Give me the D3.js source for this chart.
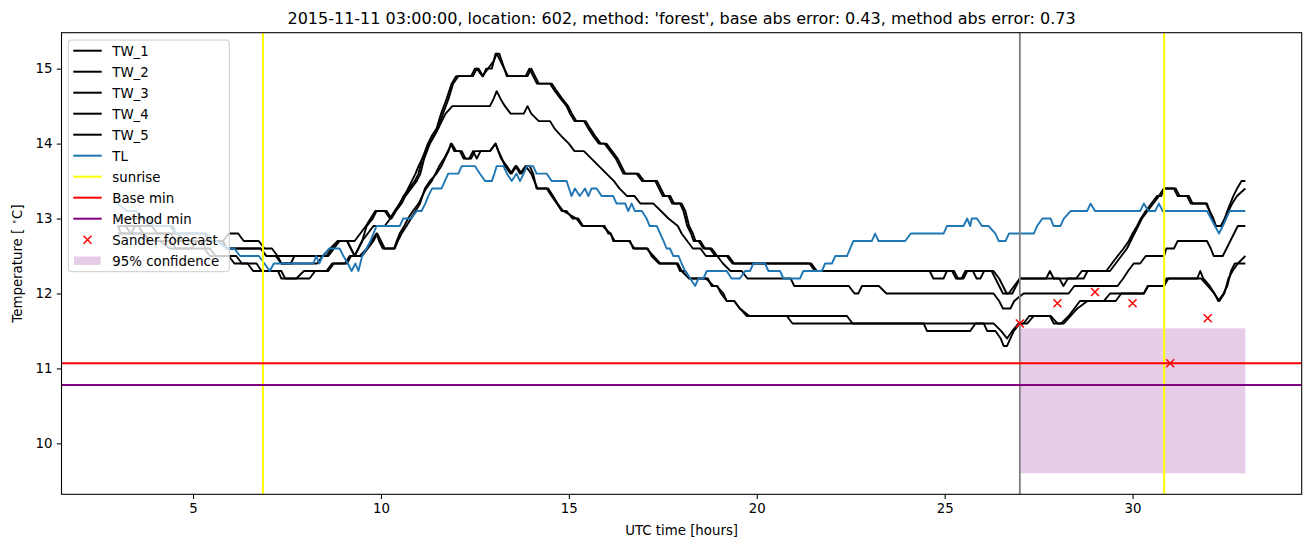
<!DOCTYPE html>
<html>
<head>
<meta charset="utf-8">
<script src="https://d3js.org/d3.v7.min.js"></script>
<style>
    body { margin: 0; background: white; }
    svg { display: block; font-family: "DejaVu Sans", sans-serif; }
    .tick text { font-size: 13.33px; fill: black; }
    .tick line { stroke: black; stroke-width: 1.07px; }
</style>
</head>
<body>
<svg width="1311" height="547"></svg>
<script>
// hours after 2015-11-11 00:00 UTC, temperature in degC
var tw1 = [[3.0,12.9],[3.9,12.9],[4.05,12.8],[4.6,12.8],[4.75,12.7],[5.8,12.7],[5.95,12.8],[6.2,12.8],[6.35,12.7],[6.75,12.7],[6.9,12.6],[7.1,12.6],[7.25,12.5],[8.6,12.5],[8.75,12.6],[8.9,12.7],[9.3,12.7],[9.45,12.8],[9.6,12.9],[9.85,13.1],[10.1,13.1],[10.24,13.0],[10.37,13.1],[10.5,13.2],[10.6,13.3],[10.75,13.4],[10.9,13.5],[11.0,13.6],[11.1,13.8],[11.25,14.0],[11.35,14.1],[11.48,14.2],[11.6,14.4],[11.75,14.6],[11.88,14.8],[12.0,14.9],[12.4,14.9],[12.5,15.0],[12.6,15.0],[12.72,14.9],[12.8,15.0],[12.95,15.0],[13.05,15.2],[13.15,15.2],[13.35,14.9],[13.85,14.9],[13.95,15.0],[14.05,14.9],[14.15,14.8],[14.5,14.8],[14.63,14.7],[14.78,14.6],[14.94,14.5],[15.03,14.4],[15.15,14.3],[15.4,14.3],[15.52,14.2],[15.65,14.1],[15.8,14.0],[15.95,14.0],[16.1,13.9],[16.25,13.8],[16.35,13.7],[16.45,13.6],[16.8,13.6],[16.95,13.5],[17.3,13.5],[17.4,13.4],[17.5,13.3],[17.65,13.3],[17.75,13.2],[17.96,13.2],[18.05,13.1],[18.1,13.0],[18.15,12.9],[18.25,12.8],[18.32,12.7],[18.45,12.7],[18.58,12.6],[18.75,12.6],[18.9,12.5],[19.2,12.5],[19.35,12.4],[21.4,12.4],[21.55,12.3],[25.2,12.3],[25.3,12.2],[25.5,12.2],[25.6,12.3],[25.75,12.3],[25.85,12.2],[25.95,12.2],[26.05,12.3],[26.3,12.3],[26.45,12.2],[26.55,12.1],[26.65,12.0],[26.8,12.0],[26.9,12.1],[27.0,12.2],[27.7,12.2],[27.8,12.3],[27.9,12.2],[28.5,12.2],[28.65,12.3],[29.4,12.3],[29.55,12.4],[29.7,12.5],[29.85,12.6],[29.95,12.7],[30.05,12.8],[30.15,12.9],[30.25,13.0],[30.4,13.1],[30.55,13.2],[30.7,13.3],[30.83,13.4],[31.1,13.4],[31.2,13.3],[31.45,13.3],[31.55,13.2],[31.98,13.2],[32.05,13.1],[32.12,13.0],[32.2,12.9],[32.35,12.9],[32.45,13.0],[32.52,13.1],[32.6,13.2],[32.68,13.3],[32.78,13.4],[32.9,13.5],[33.0,13.5]];
var tw2 = [[3.0,13.0],[3.7,13.0],[3.85,12.9],[4.4,12.9],[4.55,12.8],[5.3,12.8],[5.45,12.7],[5.8,12.7],[5.9,12.6],[6.8,12.6],[6.95,12.5],[7.25,12.5],[7.35,12.4],[7.6,12.4],[7.7,12.5],[8.55,12.5],[8.7,12.6],[8.85,12.7],[9.1,12.7],[9.2,12.6],[9.3,12.5],[9.4,12.6],[9.5,12.7],[9.62,12.9],[9.78,13.0],[9.88,13.1],[10.15,13.1],[10.28,13.0],[10.4,13.1],[10.55,13.2],[10.65,13.3],[10.8,13.4],[10.95,13.5],[11.05,13.6],[11.15,13.8],[11.3,14.0],[11.4,14.1],[11.52,14.2],[11.65,14.4],[11.8,14.6],[11.92,14.8],[12.06,14.9],[12.45,14.9],[12.55,15.0],[12.7,14.9],[12.85,15.0],[13.0,15.1],[13.08,15.2],[13.18,15.1],[13.38,14.9],[13.9,14.9],[14.0,15.0],[14.1,14.9],[14.2,14.8],[14.55,14.8],[14.68,14.7],[14.82,14.6],[14.98,14.5],[15.08,14.4],[15.2,14.3],[15.45,14.3],[15.57,14.2],[15.7,14.1],[15.85,14.0],[16.0,14.0],[16.15,13.9],[16.3,13.8],[16.4,13.7],[16.5,13.6],[16.85,13.6],[17.0,13.5],[17.35,13.5],[17.45,13.4],[17.55,13.3],[17.7,13.3],[17.8,13.2],[18.0,13.2],[18.1,13.1],[18.15,13.0],[18.2,12.9],[18.3,12.8],[18.37,12.7],[18.5,12.7],[18.62,12.6],[18.8,12.6],[18.95,12.5],[19.25,12.5],[19.4,12.4],[21.45,12.4],[21.6,12.3],[24.6,12.3],[24.7,12.2],[24.97,12.2],[25.06,12.3],[25.25,12.3],[25.35,12.2],[25.45,12.2],[25.55,12.3],[26.25,12.3],[26.35,12.2],[26.45,12.1],[26.55,12.0],[26.7,12.0],[26.85,12.1],[27.0,12.2],[28.05,12.2],[28.16,12.1],[28.28,12.2],[28.7,12.2],[28.8,12.3],[29.3,12.3],[29.45,12.4],[29.6,12.5],[29.76,12.6],[29.9,12.7],[30.0,12.8],[30.12,12.9],[30.22,13.0],[30.35,13.1],[30.5,13.2],[30.65,13.3],[30.76,13.3],[30.85,13.4],[31.15,13.4],[31.25,13.3],[31.5,13.3],[31.6,13.2],[31.95,13.2],[32.05,13.1],[32.15,13.0],[32.22,12.9],[32.38,12.9],[32.48,13.0],[32.55,13.1],[32.65,13.2],[32.78,13.3],[33.0,13.4]];
var tw3 = [[3.0,12.8],[4.4,12.8],[4.55,12.7],[5.75,12.7],[5.9,12.6],[6.8,12.6],[6.95,12.5],[7.2,12.5],[7.35,12.4],[8.3,12.4],[8.45,12.5],[8.65,12.6],[8.85,12.7],[9.1,12.7],[9.2,12.6],[9.3,12.5],[9.4,12.6],[9.5,12.7],[9.65,12.8],[9.8,12.9],[10.1,12.9],[10.25,13.0],[10.37,13.1],[10.5,13.2],[10.62,13.3],[10.72,13.4],[10.82,13.5],[10.92,13.6],[11.0,13.7],[11.1,13.8],[11.2,13.9],[11.3,14.0],[11.42,14.1],[11.52,14.2],[11.62,14.3],[11.72,14.4],[11.9,14.5],[12.9,14.5],[13.0,14.6],[13.08,14.7],[13.18,14.6],[13.3,14.5],[13.45,14.4],[13.8,14.4],[13.9,14.5],[14.0,14.4],[14.2,14.3],[14.5,14.3],[14.62,14.2],[14.8,14.1],[15.0,14.0],[15.15,13.9],[15.4,13.9],[15.6,13.8],[15.8,13.7],[16.0,13.6],[16.2,13.5],[16.35,13.4],[16.55,13.3],[16.75,13.3],[16.9,13.2],[17.25,13.2],[17.45,13.1],[17.65,13.0],[17.9,12.9],[18.0,12.8],[18.15,12.7],[18.3,12.6],[18.5,12.6],[18.65,12.5],[18.95,12.5],[19.1,12.4],[19.3,12.3],[19.6,12.3],[19.75,12.2],[20.9,12.2],[21.0,12.1],[22.45,12.1],[22.6,12.0],[22.7,12.0],[22.8,12.1],[23.25,12.1],[23.45,12.0],[26.3,12.0],[26.45,11.9],[26.55,11.8],[26.75,11.8],[26.85,11.9],[27.1,12.0],[28.3,12.0],[28.45,12.1],[29.6,12.1],[29.75,12.2],[29.88,12.3],[30.03,12.4],[30.2,12.4],[30.35,12.5],[30.84,12.5],[30.9,12.6],[31.1,12.6],[31.2,12.7],[31.98,12.7],[32.08,12.6],[32.16,12.5],[32.4,12.5],[32.5,12.6],[32.6,12.7],[32.7,12.8],[32.8,12.9],[33.0,12.9]];
var tw4 = [[3.0,12.9],[3.09,12.8],[3.36,12.8],[3.45,12.9],[3.55,12.9],[3.67,12.8],[3.8,12.7],[4.11,12.7],[4.38,12.6],[4.96,12.6],[5.1,12.7],[5.2,12.7],[5.35,12.6],[5.45,12.6],[5.6,12.5],[6.15,12.5],[6.3,12.4],[6.69,12.4],[6.82,12.3],[7.26,12.3],[7.35,12.2],[7.75,12.2],[7.95,12.3],[8.55,12.3],[8.7,12.4],[9.04,12.4],[9.17,12.5],[9.44,12.5],[9.62,12.6],[9.75,12.7],[9.88,12.8],[9.95,12.7],[10.05,12.6],[10.37,12.6],[10.45,12.7],[10.55,12.8],[10.68,12.9],[10.8,13.0],[10.92,13.1],[11.04,13.2],[11.17,13.4],[11.3,13.5],[11.48,13.6],[11.61,13.7],[11.7,13.8],[11.8,13.9],[11.86,14.0],[11.95,13.9],[12.1,13.9],[12.2,13.8],[12.35,13.8],[12.45,13.9],[12.55,13.8],[12.65,13.9],[12.9,13.9],[13.05,14.0],[13.12,13.9],[13.2,13.8],[13.35,13.7],[13.48,13.6],[13.61,13.7],[13.74,13.6],[13.88,13.7],[13.96,13.7],[14.05,13.6],[14.14,13.4],[14.41,13.4],[14.54,13.3],[14.68,13.2],[14.81,13.1],[14.94,13.1],[15.1,13.0],[15.25,13.0],[15.38,12.9],[15.95,12.9],[16.05,12.8],[16.12,12.8],[16.18,12.7],[16.63,12.7],[16.71,12.6],[17.07,12.6],[17.25,12.5],[17.43,12.4],[17.87,12.4],[17.96,12.3],[18.1,12.3],[18.22,12.2],[18.7,12.2],[18.8,12.1],[18.93,12.1],[19.11,12.0],[19.2,11.9],[19.4,11.9],[19.55,11.8],[19.73,11.7],[20.8,11.7],[20.95,11.6],[24.44,11.6],[24.53,11.5],[25.68,11.5],[25.82,11.6],[26.04,11.6],[26.13,11.5],[26.35,11.5],[26.49,11.4],[26.57,11.3],[26.66,11.3],[26.75,11.4],[26.84,11.5],[27.0,11.6],[27.2,11.6],[27.37,11.7],[27.82,11.7],[28.0,11.6],[28.17,11.6],[28.35,11.7],[28.53,11.8],[28.8,11.9],[29.24,11.9],[29.4,12.0],[30.3,12.0],[30.4,12.1],[30.84,12.1],[30.95,12.2],[31.82,12.2],[32.0,12.1],[32.17,12.0],[32.31,11.9],[32.44,12.0],[32.55,12.2],[32.66,12.3],[32.8,12.4],[33.0,12.5]];
var tw5 = [[3.0,12.9],[3.2,12.9],[3.35,12.8],[3.7,12.8],[3.85,12.7],[4.4,12.7],[4.55,12.6],[5.3,12.6],[5.45,12.5],[5.95,12.5],[6.1,12.4],[6.45,12.4],[6.6,12.3],[7.35,12.3],[7.45,12.2],[8.1,12.2],[8.25,12.3],[8.6,12.3],[8.75,12.4],[9.1,12.4],[9.2,12.5],[9.5,12.5],[9.65,12.6],[9.8,12.7],[9.9,12.8],[10.0,12.7],[10.1,12.6],[10.35,12.6],[10.42,12.7],[10.5,12.8],[10.62,12.9],[10.72,13.0],[10.85,13.1],[11.0,13.2],[11.1,13.3],[11.2,13.4],[11.35,13.5],[11.45,13.6],[11.55,13.7],[11.68,13.8],[11.78,13.9],[11.88,14.0],[12.0,13.9],[12.15,13.9],[12.25,13.8],[12.4,13.8],[12.5,13.9],[12.9,13.9],[13.05,14.0],[13.13,13.9],[13.22,13.8],[13.3,13.7],[13.45,13.6],[13.58,13.7],[13.7,13.6],[13.85,13.7],[14.0,13.6],[14.08,13.5],[14.17,13.4],[14.45,13.4],[14.58,13.3],[14.7,13.2],[14.85,13.1],[15.2,13.0],[15.35,12.9],[15.9,12.9],[16.1,12.8],[16.22,12.7],[16.6,12.7],[16.75,12.6],[17.1,12.6],[17.2,12.5],[17.4,12.4],[17.9,12.4],[18.0,12.3],[18.2,12.2],[18.65,12.2],[18.85,12.1],[18.95,12.1],[19.05,12.0],[19.2,11.9],[19.4,11.9],[19.55,11.8],[19.8,11.7],[22.4,11.7],[22.55,11.6],[26.3,11.6],[26.5,11.5],[26.66,11.4],[26.8,11.5],[26.97,11.6],[27.1,11.6],[27.25,11.7],[27.8,11.7],[27.9,11.6],[28.1,11.6],[28.3,11.7],[28.45,11.8],[28.6,11.9],[29.55,11.9],[29.7,12.0],[30.3,12.0],[30.42,12.1],[30.84,12.1],[30.9,12.2],[31.72,12.2],[31.8,12.3],[31.88,12.2],[32.05,12.1],[32.18,12.0],[32.28,11.9],[32.42,12.0],[32.52,12.1],[32.62,12.3],[32.72,12.4],[33.0,12.4]];
var tl = [[3.0,13.2],[3.23,13.1],[3.49,13.1],[3.63,13.0],[3.85,13.0],[3.94,12.9],[4.47,12.9],[4.56,12.8],[5.35,12.8],[5.5,12.7],[5.62,12.7],[5.9,12.6],[6.1,12.6],[6.25,12.5],[6.75,12.5],[6.9,12.4],[7.04,12.3],[7.15,12.4],[8.2,12.4],[8.28,12.5],[8.36,12.4],[8.45,12.5],[8.62,12.6],[8.9,12.6],[9.0,12.5],[9.12,12.4],[9.22,12.3],[9.32,12.4],[9.4,12.3],[9.5,12.5],[9.62,12.6],[9.72,12.7],[9.88,12.9],[10.5,12.9],[10.59,13.0],[10.81,13.0],[10.95,13.1],[11.08,13.1],[11.18,13.2],[11.26,13.3],[11.36,13.4],[11.61,13.4],[11.7,13.5],[11.79,13.6],[12.06,13.6],[12.15,13.7],[12.5,13.7],[12.63,13.6],[12.77,13.5],[12.95,13.5],[13.02,13.6],[13.08,13.7],[13.26,13.7],[13.35,13.6],[13.48,13.5],[13.61,13.6],[13.7,13.5],[13.8,13.6],[13.88,13.7],[14.05,13.7],[14.14,13.6],[14.41,13.6],[14.54,13.5],[14.94,13.5],[15.07,13.3],[15.16,13.4],[15.29,13.3],[15.43,13.4],[15.52,13.3],[15.6,13.4],[15.74,13.4],[15.87,13.3],[16.18,13.3],[16.27,13.2],[16.5,13.2],[16.58,13.1],[16.67,13.2],[16.76,13.1],[16.94,13.1],[17.07,13.0],[17.15,12.9],[17.34,12.9],[17.43,12.8],[17.52,12.7],[17.6,12.6],[17.69,12.6],[17.78,12.5],[17.92,12.5],[18.0,12.4],[18.09,12.3],[18.23,12.2],[18.36,12.1],[18.45,12.2],[18.58,12.2],[18.67,12.3],[19.2,12.3],[19.33,12.2],[19.55,12.2],[19.69,12.3],[19.82,12.3],[19.91,12.4],[20.22,12.4],[20.31,12.3],[20.62,12.3],[20.71,12.2],[21.15,12.2],[21.24,12.3],[21.73,12.3],[21.82,12.4],[22.0,12.4],[22.09,12.5],[22.4,12.5],[22.57,12.7],[23.06,12.7],[23.15,12.8],[23.24,12.7],[23.95,12.7],[24.1,12.8],[24.97,12.8],[25.06,12.9],[25.5,12.9],[25.6,13.0],[25.68,12.9],[25.72,13.0],[25.86,13.0],[25.99,12.9],[26.17,12.9],[26.35,12.8],[26.44,12.7],[26.62,12.7],[26.71,12.8],[27.37,12.8],[27.46,12.9],[27.6,13.0],[27.82,13.0],[27.9,12.9],[28.08,12.9],[28.17,13.0],[28.35,13.1],[28.79,13.1],[28.88,13.2],[29.0,13.1],[30.2,13.1],[30.3,13.2],[30.42,13.1],[30.6,13.1],[30.7,13.2],[30.8,13.1],[31.98,13.1],[32.3,12.8],[32.4,12.9],[32.58,13.1],[33.0,13.1]];

var sunriseHours = [6.86, 30.84];
var forecastHour = 27.0;
var baseMin = 11.07;
var methodMin = 10.78;
var sanderHours = [27, 28, 29, 30, 31, 32];
var sanderTemps = [11.60, 11.87, 12.02, 11.87, 11.07, 11.67];
var confHours = [27, 33];
var confTemps = [9.6, 11.535];
var xTicks = [5, 10, 15, 20, 25, 30];
var yTicks = [10, 11, 12, 13, 14, 15];

var svg = d3.select("svg");
var axL = 61.5, axR = 1301.7, axT = 32.7, axB = 494.3;

var x = d3.scaleLinear().domain([1.5, 34.5]).range([axL, axR]);
var y = d3.scaleLinear().domain([9.32, 15.48]).range([axB, axT]);

// confidence band
svg.append("rect")
    .attr("x", x(confHours[0]))
    .attr("y", y(confTemps[1]))
    .attr("width", x(confHours[1]) - x(confHours[0]))
    .attr("height", y(confTemps[0]) - y(confTemps[1]))
    .attr("fill", "purple").attr("fill-opacity", 0.2);

var line = d3.line().x(function(d) { return x(d[0]); }).y(function(d) { return y(d[1]); });

[tw1, tw2, tw3, tw4, tw5].forEach(function(s) {
    svg.append("path").datum(s)
        .attr("fill", "none").attr("stroke", "black").attr("stroke-width", 1.9)
        .attr("stroke-linejoin", "round").attr("d", line);
});
svg.append("path").datum(tl)
    .attr("fill", "none").attr("stroke", "#1f77b4").attr("stroke-width", 1.9)
    .attr("stroke-linejoin", "round").attr("d", line);

// vertical markers
sunriseHours.forEach(function(h) {
    svg.append("line").attr("x1", x(h)).attr("x2", x(h)).attr("y1", axT).attr("y2", axB)
        .attr("stroke", "yellow").attr("stroke-width", 2);
});
svg.append("line").attr("x1", x(forecastHour)).attr("x2", x(forecastHour)).attr("y1", axT).attr("y2", axB)
    .attr("stroke", "grey").attr("stroke-width", 1.8);

// min lines
svg.append("line").attr("x1", axL).attr("x2", axR).attr("y1", y(baseMin)).attr("y2", y(baseMin))
    .attr("stroke", "red").attr("stroke-width", 2);
svg.append("line").attr("x1", axL).attr("x2", axR).attr("y1", y(methodMin)).attr("y2", y(methodMin))
    .attr("stroke", "purple").attr("stroke-width", 2);

// forecast crosses
function cross(g, cx, cy) {
    var r = 4;
    g.append("path")
        .attr("d", "M" + (cx - r) + "," + (cy - r) + "L" + (cx + r) + "," + (cy + r) +
                   "M" + (cx - r) + "," + (cy + r) + "L" + (cx + r) + "," + (cy - r))
        .attr("stroke", "red").attr("stroke-width", 1.5).attr("fill", "none");
}
sanderHours.forEach(function(h, i) { cross(svg, x(h), y(sanderTemps[i])); });

// axes
var gx = svg.append("g").attr("transform", "translate(0," + axB + ")")
    .call(d3.axisBottom(x).tickValues(xTicks).tickSize(4.7).tickPadding(4.3).tickFormat(d3.format("d")));
var gy = svg.append("g").attr("transform", "translate(" + axL + ",0)")
    .call(d3.axisLeft(y).tickValues(yTicks).tickSize(4.7).tickPadding(4.3).tickFormat(d3.format("d")));
gx.select(".domain").remove();
gy.select(".domain").remove();
svg.selectAll(".tick text").attr("font-family", "DejaVu Sans");

svg.append("rect").attr("x", axL).attr("y", axT).attr("width", axR - axL).attr("height", axB - axT)
    .attr("fill", "none").attr("stroke", "black").attr("stroke-width", 1.07);

// labels
svg.append("text").attr("x", (axL + axR) / 2).attr("y", 23.5).attr("text-anchor", "middle")
    .attr("font-size", "16px")
    .text("2015-11-11 03:00:00, location: 602, method: 'forest', base abs error: 0.43, method abs error: 0.73");
svg.append("text").attr("x", (axL + axR) / 2).attr("y", 535).attr("text-anchor", "middle")
    .attr("font-size", "13.33px").text("UTC time [hours]");
var yl = svg.append("text").attr("transform", "translate(22," + ((axT + axB) / 2) + ") rotate(-90)")
    .attr("text-anchor", "middle").attr("font-size", "13.33px");
yl.append("tspan").text("Temperature [ ");
yl.append("tspan").attr("font-size", "9px").attr("dy", "-5").text("\u2218");
yl.append("tspan").attr("dy", "5").text("C]");

// legend
var legendItems = [
    {name: "TW_1", kind: "line", color: "black"},
    {name: "TW_2", kind: "line", color: "black"},
    {name: "TW_3", kind: "line", color: "black"},
    {name: "TW_4", kind: "line", color: "black"},
    {name: "TW_5", kind: "line", color: "black"},
    {name: "TL", kind: "line", color: "#1f77b4"},
    {name: "sunrise", kind: "line", color: "yellow"},
    {name: "Base min", kind: "line", color: "red"},
    {name: "Method min", kind: "line", color: "purple"},
    {name: "Sander forecast", kind: "cross", color: "red"},
    {name: "95% confidence", kind: "patch", color: "purple"}
];
var lg = svg.append("g");
lg.append("rect").attr("x", 68.3).attr("y", 40).attr("width", 161).attr("height", 231.7)
    .attr("rx", 3).attr("fill", "white").attr("fill-opacity", 0.8)
    .attr("stroke", "#cccccc").attr("stroke-width", 1);
legendItems.forEach(function(d, i) {
    var cy = 50.7 + i * 21.0;
    if (d.kind === "line") {
        lg.append("line").attr("x1", 73.3).attr("x2", 101.7).attr("y1", cy).attr("y2", cy)
            .attr("stroke", d.color).attr("stroke-width", 2);
    } else if (d.kind === "cross") {
        cross(lg, 87.5, cy);
    } else {
        lg.append("rect").attr("x", 74).attr("y", cy - 4.2).attr("width", 26.7).attr("height", 8.4)
            .attr("fill", d.color).attr("fill-opacity", 0.2);
    }
    lg.append("text").attr("x", 112.3).attr("y", cy + 4.8).attr("font-size", "13.33px").text(d.name);
});
</script>
</body>
</html>
